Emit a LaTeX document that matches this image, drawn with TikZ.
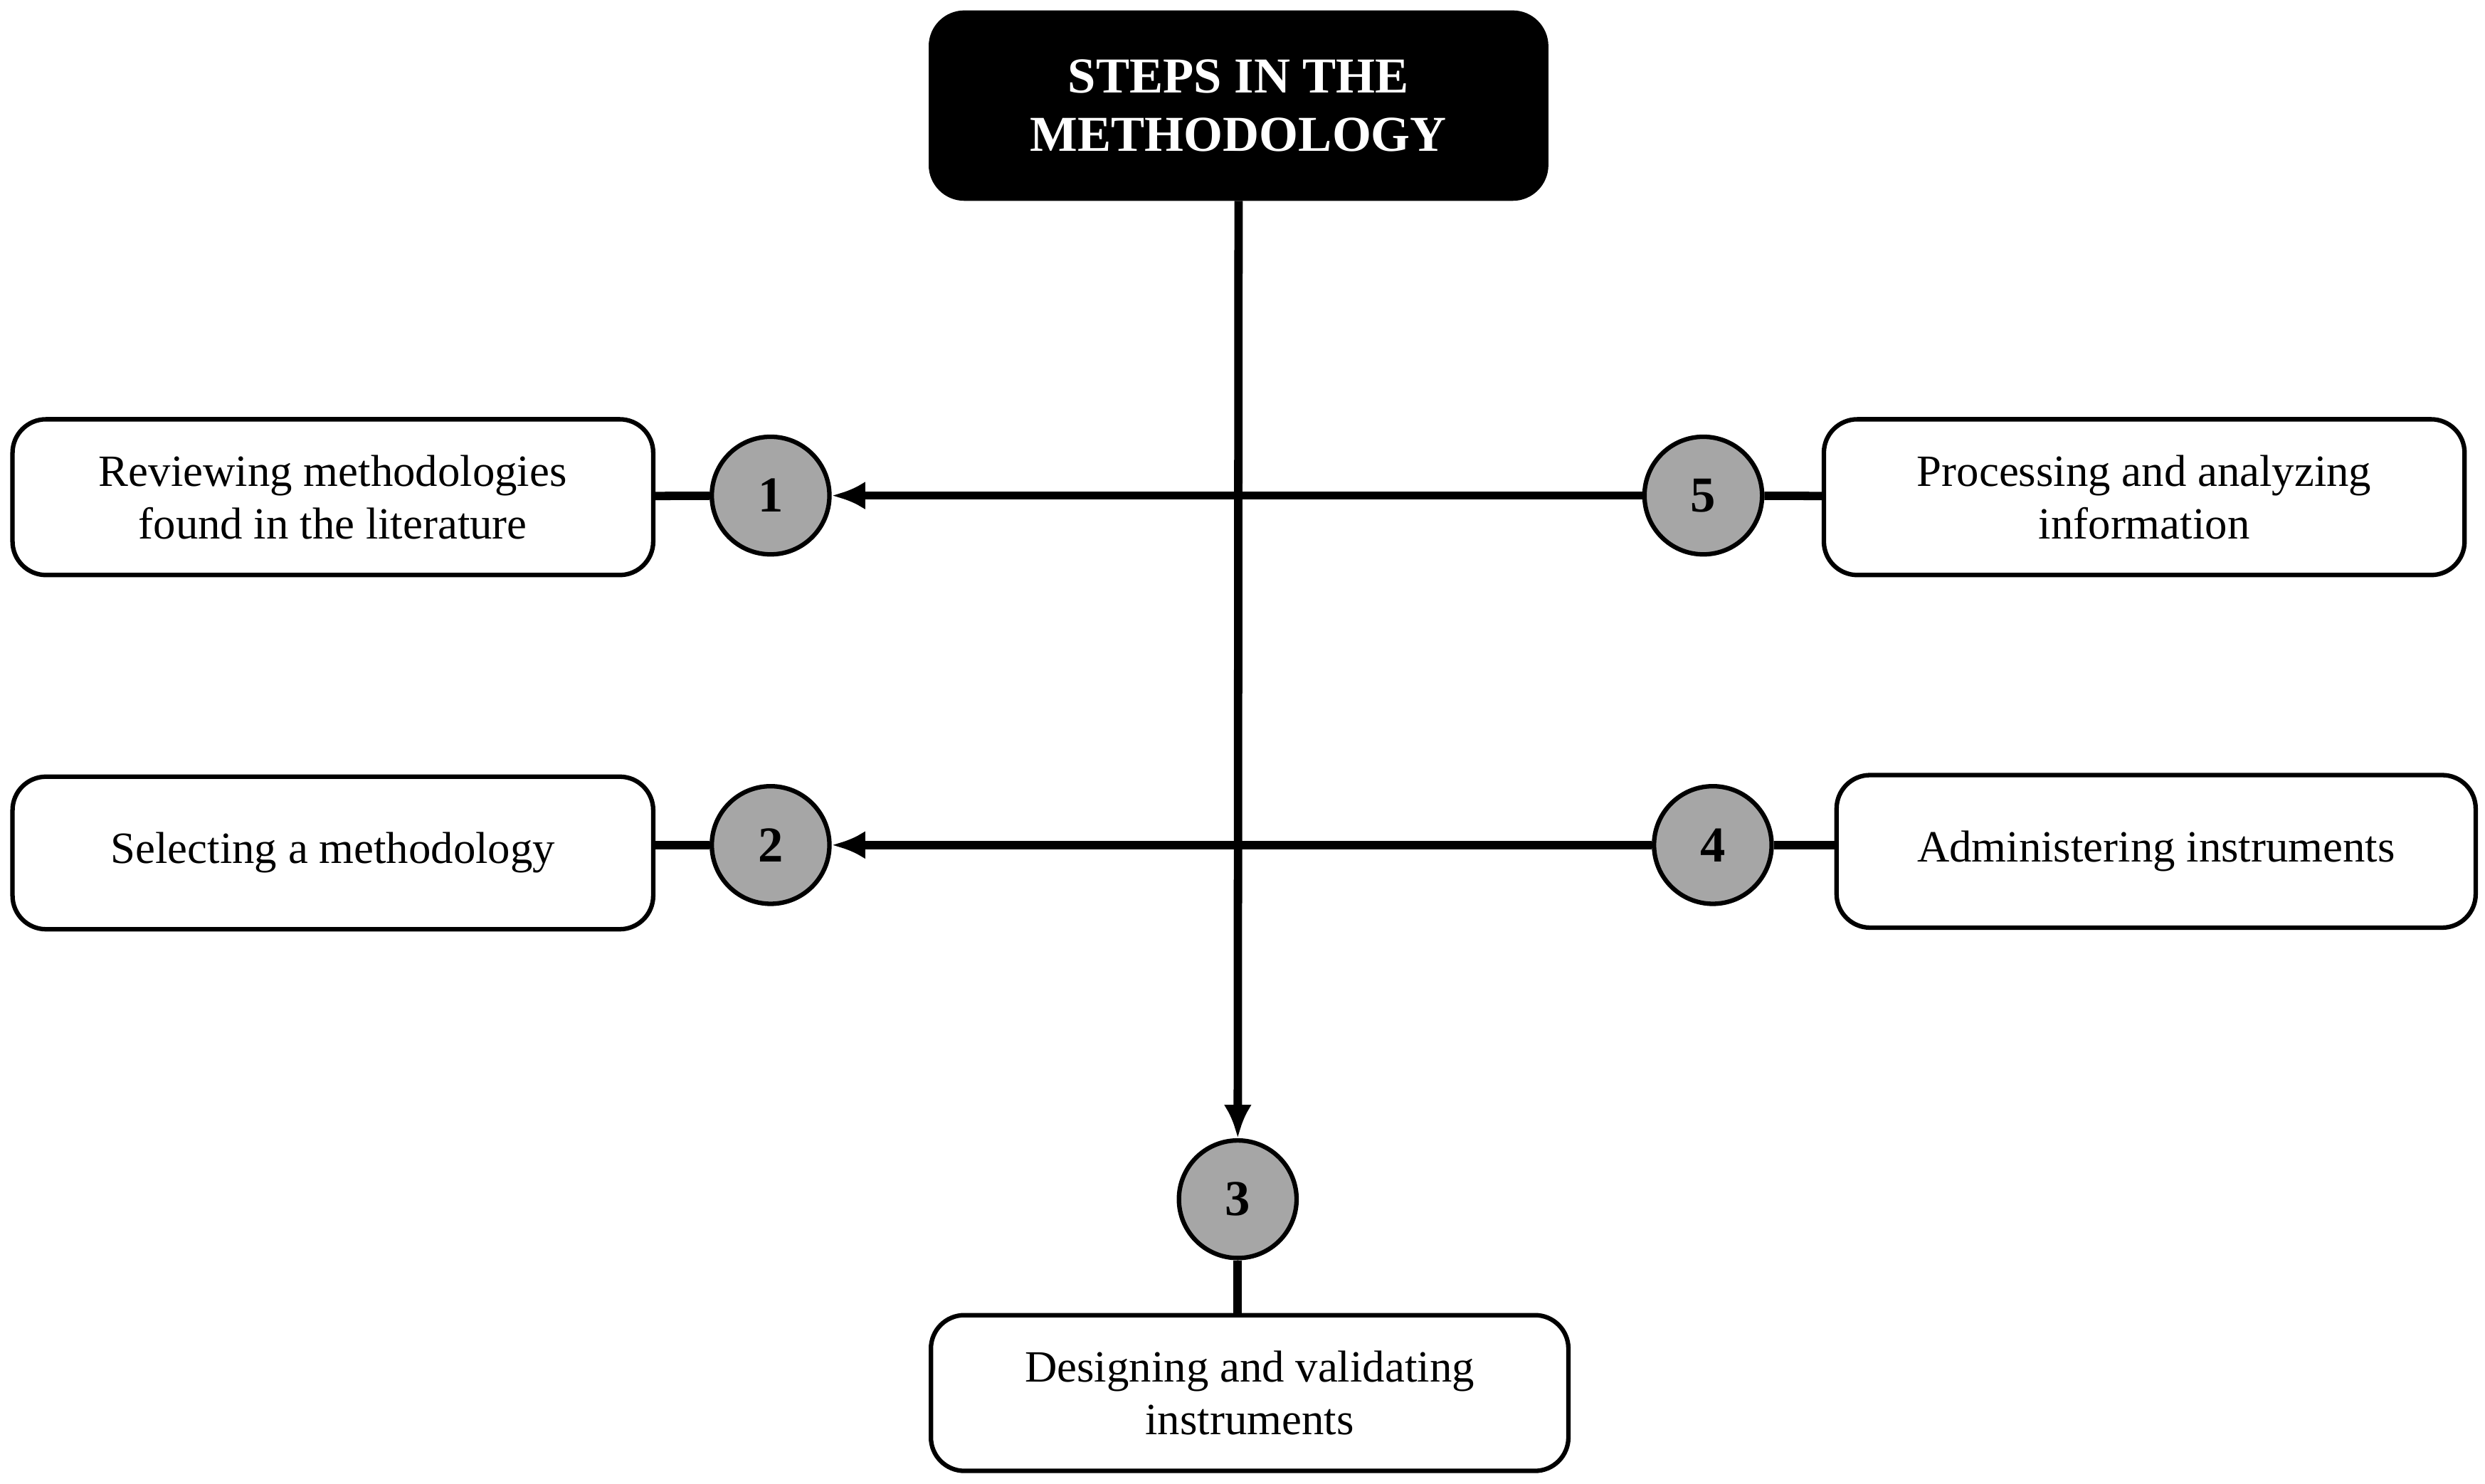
\documentclass[tikz,border=0pt]{standalone}
\usepackage{fontspec}
\setmainfont{Liberation Serif}
\usetikzlibrary{arrows.meta}
\begin{document}
\begin{tikzpicture}[x=0.01cm,y=-0.01cm,
  box/.style={draw,thick,rounded corners=6pt,align=center,inner sep=0pt,font=\fontsize{8}{9.4}\selectfont},
  num/.style={circle,draw,thick,fill=gray!70,minimum size=0.74cm,inner sep=0pt,font=\bfseries\fontsize{9}{10}\selectfont},
  ln/.style={line width=1.5pt},
  arr/.style={ln,-{Latex[length=6pt,width=5pt]}}]
\useasboundingbox (0,0) rectangle (1564,934);
\node[box,fill=black,text=white,font=\bfseries\fontsize{9}{10.5}\selectfont,minimum width=3.87cm,minimum height=1.17cm] (t) at (779.5,66.5) {STEPS IN THE\\METHODOLOGY};
\node[box,minimum width=4.03cm,minimum height=0.98cm] (b1) at (209.5,313) {Reviewing methodologies\\found in the literature};
\node[box,minimum width=4.03cm,minimum height=0.96cm] (b2) at (209.5,537) {Selecting a methodology};
\node[box,minimum width=4.01cm,minimum height=0.98cm] (b3) at (786.5,877) {Designing and validating\\instruments};
\node[box,minimum width=4.02cm,minimum height=0.96cm] (b4) at (1357,536) {Administering instruments};
\node[box,minimum width=4.03cm,minimum height=0.98cm] (b5) at (1349.5,313) {Processing and analyzing\\information};
\node[num] (n1) at (485,312) {1};
\node[num] (n2) at (485,532) {2};
\node[num] (n3) at (779,755) {3};
\node[num] (n4) at (1078,532) {4};
\node[num] (n5) at (1072,312) {5};
\draw[arr] (t.south) -- (n3.north);
\draw[arr,{Latex[length=6pt,width=5pt]}-] (n1) -- (n5);
\draw[arr,{Latex[length=6pt,width=5pt]}-] (n2) -- (n4);
\draw[ln] (b1) -- (n1);
\draw[ln] (b2.east|-n2) -- (n2);
\draw[ln] (n5) -- (b5);
\draw[ln] (n4) -- (b4.west|-n4);
\draw[ln] (n3) -- (b3.north-|n3);
\end{tikzpicture}
\end{document}
